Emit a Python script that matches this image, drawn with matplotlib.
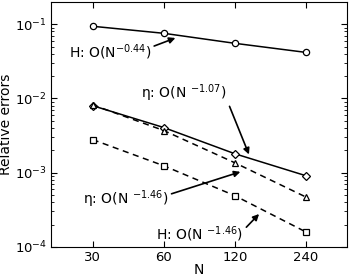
import matplotlib
matplotlib.use('Agg')
import matplotlib.pyplot as plt
import numpy as np

# Data
N = [30, 60, 120, 240]
H_solid = [0.094, 0.0756, 0.0554, 0.0418]       # circles, solid
eta_solid = [0.0080, 0.00406, 0.0018, 0.00091]  # diamonds, solid
eta_dash = [0.0082, 0.0037, 0.00136, 0.00047]   # triangles, dashed
H_dash = [0.00279, 0.00124, 0.00049, 0.000159]  # squares, dashed
xtick_labels = ['30', '60', '120', '240']

plt.rcParams['font.family'] = 'DejaVu Sans'

fig = plt.figure(figsize=(3.5, 2.78), dpi=100)
ax = fig.add_axes([0.146, 0.112, 0.845, 0.881])

mk = dict(markerfacecolor='white', markeredgecolor='black', markersize=4.5,
          markeredgewidth=0.9, color='black', linewidth=1.1)
ax.plot(N, H_solid, '-', marker='o', **mk)
ax.plot(N, eta_solid, '-', marker='D', **dict(mk, markersize=3.8))
ax.plot(N, eta_dash, '--', marker='^', dashes=(4, 3), **mk)
ax.plot(N, H_dash, '--', marker='s', dashes=(4, 3), **dict(mk, markersize=3.8))

ax.set_xscale('log')
ax.set_yscale('log')
ax.set_xlim(20, 358)
ax.set_ylim(1e-4, 0.2)
ax.set_xticks(N)
ax.set_xticklabels(xtick_labels)
ax.xaxis.set_minor_locator(matplotlib.ticker.NullLocator())
ax.tick_params(which='both', direction='in', top=True, right=True, labelsize=9.5)
ax.tick_params(which='major', length=4, pad=3)
ax.tick_params(which='minor', length=2)
ax.set_xlabel('N', fontsize=10, labelpad=-1)
ax.set_ylabel('Relative errors', fontsize=10, labelpad=1)

arr = dict(arrowstyle='-|>', color='black', lw=1.2, mutation_scale=9)

def px(x, y):
    # figure pixel coordinates (from top-left) to figure fraction
    return (x / 350.0, 1 - y / 278.0)

ax.annotate(r'H: O(N$^{-0.44}$)', xy=px(178, 37), xycoords='figure fraction',
            xytext=px(110, 52), textcoords='figure fraction', fontsize=10,
            ha='center', va='center', arrowprops=dict(arr, shrinkA=0, relpos=(1.0, 0.75)))
ax.annotate(r'η: O(N $^{-1.07}$)', xy=px(250, 157), xycoords='figure fraction',
            xytext=px(184, 93), textcoords='figure fraction', fontsize=10,
            ha='center', va='center', arrowprops=dict(arr, shrinkA=0, relpos=(1.0, 0.2)))
ax.annotate(r'η: O(N $^{-1.46}$)', xy=px(243, 171), xycoords='figure fraction',
            xytext=px(126, 199), textcoords='figure fraction', fontsize=10,
            ha='center', va='center', arrowprops=dict(arr, shrinkA=0, relpos=(1.0, 0.7)))
ax.annotate(r'H: O(N $^{-1.46}$)', xy=px(261, 212), xycoords='figure fraction',
            xytext=px(200, 234), textcoords='figure fraction', fontsize=10,
            ha='center', va='center', arrowprops=dict(arr, shrinkA=0, relpos=(1.0, 0.7)))

fig.savefig('out.png', dpi=100)
